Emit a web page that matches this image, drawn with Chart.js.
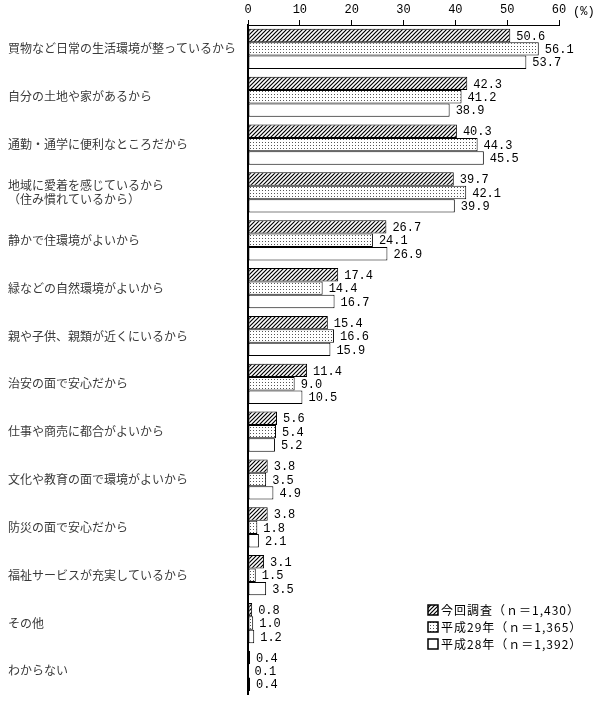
<!DOCTYPE html>
<html>
<head>
<meta charset="utf-8">
<script src="https://cdn.jsdelivr.net/npm/chart.js@4"></script>
<style>
  html, body { margin: 0; padding: 0; background: #fff; }
  #wrap { width: 600px; height: 705px; }
</style>
</head>
<body>
<div id="wrap"><canvas id="myChart" width="600" height="705"></canvas></div>
<script>
// data
var reasons = [
  "買物など日常の生活環境が整っているから",
  "自分の土地や家があるから",
  "通勤・通学に便利なところだから",
  ["地域に愛着を感じているから", "（住み慣れているから）"],
  "静かで住環境がよいから",
  "緑などの自然環境がよいから",
  "親や子供、親類が近くにいるから",
  "治安の面で安心だから",
  "仕事や商売に都合がよいから",
  "文化や教育の面で環境がよいから",
  "防災の面で安心だから",
  "福祉サービスが充実しているから",
  "その他",
  "わからない"
];
var seriesNames = ["今回調査（ｎ＝1,430）", "平成29年（ｎ＝1,365）", "平成28年（ｎ＝1,392）"];
var current = [50.6, 42.3, 40.3, 39.7, 26.7, 17.4, 15.4, 11.4, 5.6, 3.8, 3.8, 3.1, 0.8, 0.4];
var h29 = [56.1, 41.2, 44.3, 42.1, 24.1, 14.4, 16.6, 9.0, 5.4, 3.5, 1.8, 1.5, 1.0, 0.1];
var h28 = [53.7, 38.9, 45.5, 39.9, 26.9, 16.7, 15.9, 10.5, 5.2, 4.9, 2.1, 3.5, 1.2, 0.4];
var xTicks = [0, 10, 20, 30, 40, 50, 60];

var numFont = '12px "Liberation Mono", monospace';
var jpFont = '"Noto Sans CJK JP", sans-serif';

// fill patterns
function makePattern(kind) {
  var c = document.createElement("canvas");
  var g = c.getContext("2d");
  if (kind === "hatch") {
    c.width = 4; c.height = 4;
    g.fillStyle = "#fff"; g.fillRect(0, 0, 4, 4);
    g.strokeStyle = "#000"; g.lineWidth = 1.2;
    g.beginPath();
    g.moveTo(-1, 5); g.lineTo(5, -1);
    g.moveTo(-1, 1); g.lineTo(1, -1);
    g.moveTo(3, 5); g.lineTo(5, 3);
    g.stroke();
  } else {
    c.width = 3; c.height = 3;
    g.fillStyle = "#fff"; g.fillRect(0, 0, 3, 3);
    g.fillStyle = "#555"; g.fillRect(1, 1, 1, 1);
  }
  return g.createPattern(c, "repeat");
}
var fills = [makePattern("hatch"), makePattern("dots"), "#fff"];

var valueLabels = {
  id: "valueLabels",
  afterDatasetsDraw: function (chart) {
    var ctx = chart.ctx;
    ctx.save();
    ctx.font = numFont;
    ctx.fillStyle = "#000";
    ctx.textAlign = "left";
    ctx.textBaseline = "middle";
    chart.data.datasets.forEach(function (ds, i) {
      chart.getDatasetMeta(i).data.forEach(function (bar, j) {
        ctx.fillText(ds.data[j].toFixed(1), bar.x + 6, bar.y + 1);
      });
    });
    // unit
    var xs = chart.scales.x;
    ctx.fillText("(%)", xs.getPixelForValue(60) + 14, 12);
    ctx.restore();
  }
};

var boxLegend = {
  id: "boxLegend",
  afterDraw: function (chart) {
    var ctx = chart.ctx;
    ctx.save();
    ctx.font = "12px " + jpFont;
    ctx.letterSpacing = "1px";
    ctx.textBaseline = "middle";
    ctx.textAlign = "left";
    chart.data.datasets.forEach(function (ds, i) {
      var x = 428, y = 610 + i * 17;
      ctx.fillStyle = ds.backgroundColor;
      ctx.fillRect(x, y - 5, 10, 10);
      ctx.strokeStyle = "#000";
      ctx.lineWidth = 1.5;
      ctx.strokeRect(x, y - 5, 10, 10);
      ctx.fillStyle = "#000";
      ctx.fillText(ds.label, x + 13, y);
    });
    ctx.restore();
  }
};

new Chart("myChart", {
  type: "bar",
  data: {
    labels: reasons,
    datasets: [
      { label: seriesNames[0], data: current, backgroundColor: fills[0] },
      { label: seriesNames[1], data: h29, backgroundColor: fills[1] },
      { label: seriesNames[2], data: h28, backgroundColor: fills[2] }
    ]
  },
  options: {
    indexAxis: "y",
    responsive: false,
    animation: false,
    layout: { padding: { left: 8, right: 41, top: 1, bottom: 10 } },
    datasets: {
      bar: {
        borderColor: "#000",
        borderWidth: 1,
        borderSkipped: false,
        barPercentage: 1,
        categoryPercentage: 0.84
      }
    },
    plugins: {
      legend: { display: false },
      tooltip: { enabled: false }
    },
    scales: {
      x: {
        position: "top",
        min: 0,
        max: 60,
        afterBuildTicks: function (s) {
          s.ticks = xTicks.map(function (v) { return { value: v }; });
        },
        afterFit: function (s) { s.height = 24; },
        grid: { drawOnChartArea: false, drawTicks: true, tickLength: 5, color: "#000" },
        border: { display: true, color: "#000", width: 1 },
        ticks: { padding: 3, color: "#000", font: { family: "Liberation Mono", size: 12 } }
      },
      y: {
        afterFit: function (s) { s.width = 240; },
        grid: { display: false },
        border: { display: true, color: "#000", width: 2 },
        ticks: {
          crossAlign: "far",
          color: "#3a3a3a",
          font: { family: "Noto Sans CJK JP", size: 12 }
        }
      }
    }
  },
  plugins: [valueLabels, boxLegend]
});
</script>
</body>
</html>
